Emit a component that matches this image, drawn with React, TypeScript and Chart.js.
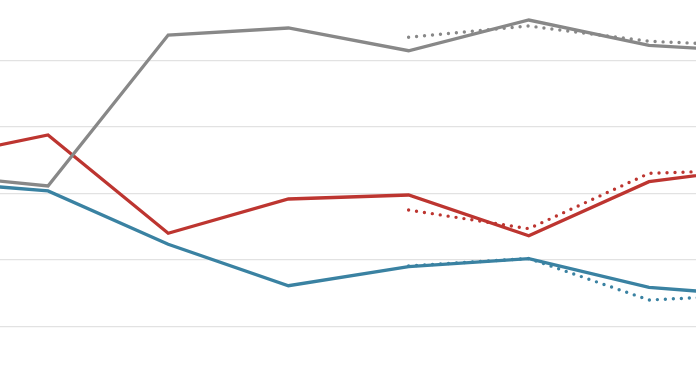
import React, { useEffect, useRef } from "react";
import { Chart, registerables } from "chart.js";

Chart.register(...registerables);

// x positions (periods); the visible window is a cropped part of the full series
const periods = [2012, 2013, 2014, 2015, 2016, 2017, 2018, 2019];

const grayActual = [32.96, 31.1, 53.8, 54.86, 51.44, 56.06, 52.26, 51.2];
const grayDotted = [null, null, null, null, 53.46, 55.16, 52.86, 52.09];

const redActual = [35.02, 38.77, 23.99, 29.14, 29.74, 23.62, 31.74, 34.06];
const redDotted = [null, null, null, null, 27.49, 24.68, 33.0, 33.62];

const blueActual = [31.85, 30.35, 22.33, 16.1, 18.96, 20.17, 15.86, 14.44];
const blueDotted = [null, null, null, null, 19.07, 20.2, 13.95, 14.84];

const X_MIN = 2012.6007;
const X_MAX = 2018.391;
const Y_MIN = 1.17;
const Y_MAX = 59.07;

const GRAY = "#888888";
const RED = "#bd3530";
const BLUE = "#3a82a2";

function toPoints(vals: (number | null)[]) {
  return periods.map((p, i) => ({ x: p, y: vals[i] }));
}

export default function App() {
  const ref = useRef<HTMLCanvasElement | null>(null);

  useEffect(() => {
    if (!ref.current) return;
    const solid = (label: string, vals: (number | null)[], color: string) => ({
      label,
      data: toPoints(vals),
      borderColor: color,
      backgroundColor: color,
      borderWidth: 3.3,
      pointRadius: 0,
      tension: 0,
      borderJoinStyle: "miter" as const,
      fill: false,
    });
    const dotted = (label: string, vals: (number | null)[], color: string) => ({
      label,
      data: toPoints(vals),
      borderColor: color,
      backgroundColor: color,
      borderWidth: 3.4,
      pointRadius: 0,
      tension: 0,
      borderDash: [0, 8],
      borderCapStyle: "round" as const,
      fill: false,
    });
    const chart = new Chart(ref.current, {
      type: "line",
      data: {
        datasets: [
          dotted("Gray forecast", grayDotted, GRAY),
          dotted("Red forecast", redDotted, RED),
          dotted("Blue forecast", blueDotted, BLUE),
          solid("Gray", grayActual, GRAY),
          solid("Red", redActual, RED),
          solid("Blue", blueActual, BLUE),
        ],
      },
      options: {
        animation: false,
        responsive: true,
        maintainAspectRatio: false,
        layout: { padding: 0 },
        plugins: { legend: { display: false }, tooltip: { enabled: false } },
        scales: {
          x: {
            type: "linear",
            min: X_MIN,
            max: X_MAX,
            display: false,
          },
          y: {
            type: "linear",
            min: Y_MIN,
            max: Y_MAX,
            ticks: { display: false, stepSize: 10, includeBounds: false },
            grid: { color: "#e2e2e2", lineWidth: 1.3, drawTicks: false },
            border: { display: false },
          },
        },
      },
    });
    return () => chart.destroy();
  }, []);

  return (
    <div style={{ position: "fixed", left: 0, top: 0, width: "100vw", height: "100vh", background: "#fff" }}>
      <canvas ref={ref} />
    </div>
  );
}
